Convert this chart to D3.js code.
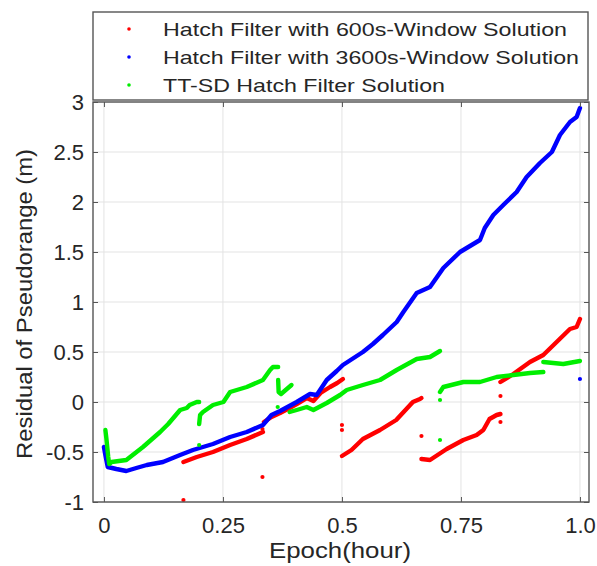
<!DOCTYPE html>
<html><head><meta charset="utf-8">
<script src="https://cdn.jsdelivr.net/npm/d3@7"></script>
<style>
html,body{margin:0;padding:0;background:#fff;}
svg text{font-family:"Liberation Sans",Arial,Helvetica,sans-serif;fill:#262626;}
</style></head>
<body><svg id="c" width="597" height="566"></svg>
<script>
// ---------- data ----------
const seriesNames = ["Hatch Filter with 600s-Window Solution","Hatch Filter with 3600s-Window Solution","TT-SD Hatch Filter Solution"];
const seriesColors = ["#ff0000","#0000ff","#00ee00"];
const xTicks = [0,0.25,0.5,0.75,1.0];
const xTickLabels = ["0","0.25","0.5","0.75","1.0"];
const yTicks = [-1,-0.5,0,0.5,1,1.5,2,2.5,3];
const yTickLabels = ["-1","-0.5","0","0.5","1","1.5","2","2.5","3"];

// Hatch filter, 600 s window (red): continuous runs [epoch hour, residual m]
const red600Runs = [
  [[0.167,-0.60],[0.195,-0.55],[0.229,-0.50],[0.265,-0.43],[0.300,-0.37],[0.334,-0.30]],
  [[0.336,-0.20],[0.352,-0.15],[0.370,-0.11],[0.390,-0.06],[0.405,-0.02],[0.426,0.04],[0.440,0.01],[0.455,0.09],[0.475,0.15],[0.490,0.19],[0.502,0.23]],
  [[0.500,-0.54],[0.520,-0.48],[0.544,-0.37],[0.580,-0.28],[0.614,-0.18],[0.649,0.00],[0.664,0.03],[0.667,0.04]],
  [[0.667,-0.57],[0.685,-0.58],[0.720,-0.47],[0.755,-0.38],[0.783,-0.33],[0.797,-0.28],[0.810,-0.17],[0.825,-0.13],[0.833,-0.12]],
  [[0.833,0.20],[0.860,0.28],[0.895,0.40],[0.923,0.47],[0.951,0.60],[0.979,0.73],[0.993,0.75],[1.000,0.83]]
];
const red600Isolated = [[0.167,-0.98],[0.333,-0.75],[0.333,-0.27],[0.500,-0.23],[0.500,-0.28],[0.667,-0.34],[0.833,-0.20],[0.833,0.06]];

// Hatch filter, 3600 s window (blue)
const blue3600Runs = [
  [[0.000,-0.45],[0.003,-0.53],[0.008,-0.65],[0.026,-0.67],[0.047,-0.69],[0.068,-0.66],[0.090,-0.63],[0.124,-0.60],[0.160,-0.53],[0.187,-0.48],[0.229,-0.42],[0.265,-0.35],[0.300,-0.30],[0.334,-0.23],[0.352,-0.13],[0.370,-0.09],[0.405,0.00],[0.433,0.08],[0.447,0.07],[0.468,0.22],[0.489,0.31],[0.502,0.37],[0.544,0.50],[0.565,0.58],[0.586,0.67],[0.615,0.80],[0.629,0.90],[0.657,1.09],[0.685,1.15],[0.713,1.34],[0.748,1.50],[0.790,1.62],[0.800,1.74],[0.818,1.87],[0.839,1.97],[0.867,2.10],[0.888,2.25],[0.916,2.39],[0.941,2.50],[0.958,2.67],[0.979,2.80],[0.993,2.85],[1.000,2.94]]
];
const blue3600Isolated = [[1.000,0.23]];

// TT-SD Hatch filter (green)
const ttsdRuns = [
  [[0.003,-0.28],[0.005,-0.36],[0.009,-0.55],[0.011,-0.62],[0.016,-0.60],[0.047,-0.58],[0.082,-0.45],[0.118,-0.30],[0.135,-0.22],[0.160,-0.08],[0.174,-0.06],[0.180,-0.03],[0.195,0.00],[0.200,0.00]],
  [[0.200,-0.22],[0.202,-0.13],[0.208,-0.10],[0.229,-0.03],[0.251,0.00],[0.265,0.10],[0.300,0.15],[0.334,0.22],[0.349,0.32],[0.355,0.35],[0.366,0.35]],
  [[0.366,0.22],[0.367,0.10],[0.372,0.08],[0.394,0.17]],
  [[0.390,-0.10],[0.405,-0.08],[0.426,-0.05],[0.440,-0.08],[0.468,-0.01],[0.496,0.07],[0.510,0.12],[0.544,0.17],[0.580,0.22],[0.615,0.32],[0.657,0.43],[0.685,0.45],[0.706,0.51]],
  [[0.706,0.10],[0.713,0.15],[0.755,0.20],[0.790,0.20],[0.825,0.25],[0.860,0.27],[0.895,0.29],[0.923,0.30]],
  [[0.923,0.40],[0.965,0.38],[1.000,0.41]]
];
const ttsdIsolated = [[0.200,-0.43],[0.365,-0.05],[0.706,-0.38],[0.706,0.02]];

// ---------- drawing ----------
const svg = d3.select("#c");
const L = 93, R = 589, T = 102, B = 502;
const x = d3.scaleLinear().domain([-0.023, 1.019]).range([L, R]);
const y = d3.scaleLinear().domain([-1, 3]).range([B, T]);

// grid
const g = svg.append("g");
g.selectAll(".gx").data(xTicks).enter().append("line")
  .attr("x1", d => x(d)).attr("x2", d => x(d)).attr("y1", T).attr("y2", B)
  .attr("stroke", "#e3e3e3").attr("stroke-width", 1);
g.selectAll(".gy").data(yTicks).enter().append("line")
  .attr("x1", L).attr("x2", R).attr("y1", d => y(d)).attr("y2", d => y(d))
  .attr("stroke", "#e3e3e3").attr("stroke-width", 1);

// data
const line = d3.line().x(d => x(d[0])).y(d => y(d[1]));
const allRuns = [red600Runs, blue3600Runs, ttsdRuns];
const allIso = [red600Isolated, blue3600Isolated, ttsdIsolated];
[0,1,2].forEach(i => {
  const dg = svg.append("g");
  dg.selectAll("path").data(allRuns[i]).enter().append("path")
    .attr("d", line).attr("fill", "none").attr("stroke", seriesColors[i])
    .attr("stroke-width", 4.4).attr("stroke-linecap", "round").attr("stroke-linejoin", "round");
  dg.selectAll("circle").data(allIso[i]).enter().append("circle")
    .attr("cx", d => x(d[0])).attr("cy", d => y(d[1])).attr("r", 2.1)
    .attr("fill", seriesColors[i]);
});

// axes box & ticks (MATLAB style: inward ticks on all sides)
const axG = svg.append("g");
const axisColor = "#555555";
const xAxB = d3.axisBottom(x).tickValues(xTicks).tickSizeInner(-5).tickSizeOuter(0).tickFormat((d,i)=>xTickLabels[i]).tickPadding(15);
const xAxT = d3.axisTop(x).tickValues(xTicks).tickSizeInner(-5).tickSizeOuter(0).tickFormat("");
const yAxL = d3.axisLeft(y).tickValues(yTicks).tickSizeInner(-5).tickSizeOuter(0).tickFormat((d,i)=>yTickLabels[i]).tickPadding(9);
const yAxR = d3.axisRight(y).tickValues(yTicks).tickSizeInner(-5).tickSizeOuter(0).tickFormat("");
function style(sel){
  sel.select(".domain").remove();
  sel.selectAll(".tick line").attr("stroke", axisColor).attr("stroke-width", 1);
  sel.selectAll(".tick text").attr("fill", "#262626").style("font-size", "22px").attr("font-family", null);
}
axG.append("g").attr("transform", `translate(0,${B})`).call(xAxB).call(style);
axG.append("g").attr("transform", `translate(0,${T})`).call(xAxT).call(style);
axG.append("g").attr("transform", `translate(${L},0)`).call(yAxL).call(style);
axG.append("g").attr("transform", `translate(${R},0)`).call(yAxR).call(style);
axG.append("rect").attr("x", L).attr("y", T).attr("width", R-L).attr("height", B-T)
  .attr("fill", "none").attr("stroke", axisColor).attr("stroke-width", 1.4);

// axis labels
svg.append("text").attr("x", 340).attr("y", 558).attr("text-anchor", "middle")
  .style("font-size", "22px").attr("textLength", 142).attr("lengthAdjust", "spacingAndGlyphs")
  .text("Epoch(hour)");
svg.append("text").attr("transform", "translate(32,304) rotate(-90)").attr("text-anchor", "middle")
  .style("font-size", "22px").attr("textLength", 310).attr("lengthAdjust", "spacingAndGlyphs")
  .text("Residual of Pseudorange (m)");

// legend
const lg = svg.append("g");
lg.append("rect").attr("x", 93).attr("y", 12).attr("width", 495).attr("height", 88)
  .attr("fill", "#fff").attr("stroke", axisColor).attr("stroke-width", 1.4);
const legendTargets = [404, 416, 282];
seriesNames.forEach((n, i) => {
  const cy = 29 + i * 28;
  lg.append("circle").attr("cx", 129).attr("cy", cy).attr("r", 1.8).attr("fill", seriesColors[i]);
  lg.append("text").attr("x", 163).attr("y", cy + 7).style("font-size", "19px")
    .attr("textLength", legendTargets[i]).attr("lengthAdjust", "spacingAndGlyphs").text(n);
});
</script></body></html>
